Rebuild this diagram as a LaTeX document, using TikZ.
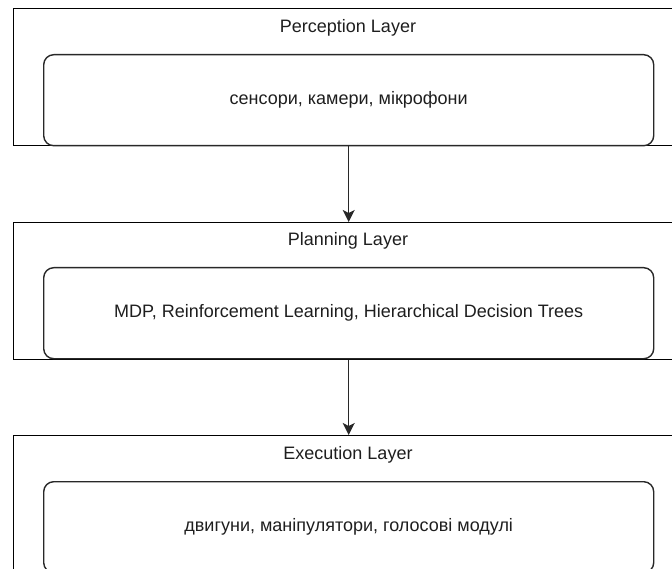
\documentclass[tikz,border=0pt]{standalone}
\usepackage{fontspec}
\setmainfont{Liberation Sans}
\usetikzlibrary{arrows.meta}
\begin{document}
\begin{tikzpicture}[x=1pt,y=-1pt,
  layerbox/.style={draw=black, line width=1.4pt, minimum width=670pt, minimum height=137pt,
    anchor=north west, inner sep=0pt},
  contentbox/.style={draw={rgb,255:red,40;green,40;blue,40}, line width=1.4pt, rounded corners=10pt,
    minimum width=610pt, minimum height=91pt, anchor=north west, inner sep=0pt,
    font=\fontsize{18pt}{21pt}\selectfont, text={rgb,255:red,30;green,30;blue,30}},
  titletext/.style={font=\fontsize{18pt}{21pt}\selectfont, text={rgb,255:red,30;green,30;blue,30}, inner sep=0pt},
  flow/.style={draw={rgb,255:red,40;green,40;blue,40}, line width=1.4pt, -{Stealth[length=12pt,width=12pt,inset=3pt]}}
]
\useasboundingbox (0,0) rectangle (672,569);
\clip (0,0) rectangle (672,569);

% Perception
\node[layerbox] (perc) at (13,8) {};
\node[titletext] (perctitle) at (348,28) {Perception Layer};
\node[contentbox] (perccontent) at (43,54) {сенсори, камери, мікрофони};

% Planning
\node[layerbox] (plan) at (13,222) {};
\node[titletext] (plantitle) at (348,241) {Planning Layer};
\node[contentbox] (plancontent) at (43,267) {MDP, Reinforcement Learning, Hierarchical Decision Trees};

% Execution
\node[layerbox] (exec) at (13,435) {};
\node[titletext] (exectitle) at (348,455) {Execution Layer};
\node[contentbox] (execcontent) at (43,481) {двигуни, маніпулятори, голосові модулі};

% Data flow between layers
\draw[flow] (perc.south) -- (plan.north);
\draw[flow] (plan.south) -- (exec.north);
\end{tikzpicture}
\end{document}
